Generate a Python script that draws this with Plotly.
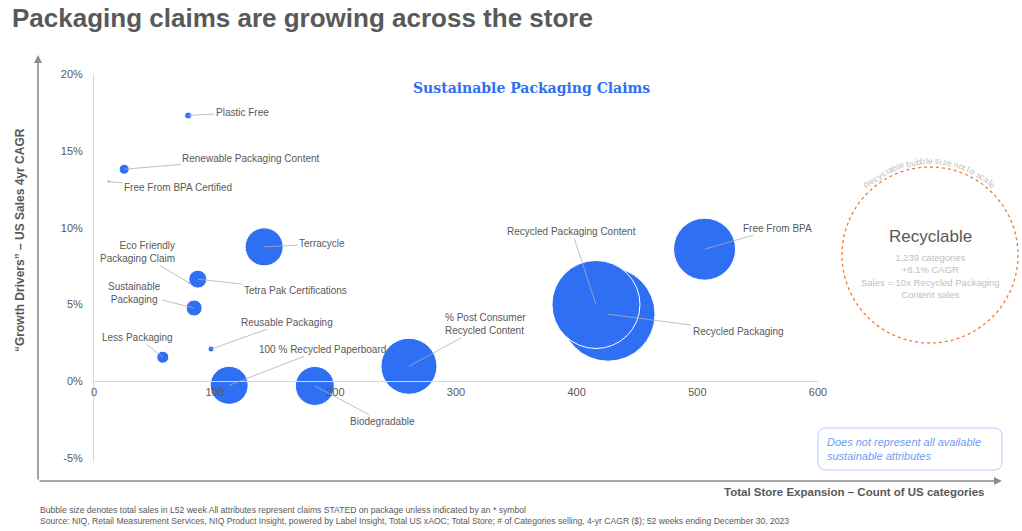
import numpy as np
import plotly.graph_objects as go

# data
claims = [
    "Plastic Free", "Renewable Packaging Content", "Free From BPA Certified",
    "Eco Friendly<br>Packaging Claim", "Tetra Pak Certifications", "Terracycle",
    "Sustainable<br>Packaging", "Less Packaging", "Reusable Packaging",
    "100 % Recycled Paperboard", "Biodegradable", "% Post Consumer<br>Recycled Content",
    "Recycled Packaging", "Recycled Packaging Content", "Free From BPA",
]
category_count = [78, 25, 12, 79, 86, 141, 83, 57, 97, 112, 183, 261, 426, 416, 506]
cagr_pct = [17.3, 13.8, 13.0, 6.4, 6.65, 8.75, 4.77, 1.57, 2.1, -0.26, -0.3, 0.98, 4.37, 5.0, 8.6]
sales_index = [12, 25, 1.5, 2.2, 81, 361, 64, 36, 9, 361, 380, 784, 2209, 1936, 961]

x_ticks = [0, 100, 200, 300, 400, 500, 600]
y_ticks = [-5, 0, 5, 10, 15, 20]
y_tick_text = ["-5%", "0%", "5%", "10%", "15%", "20%"]

# label placement (pixel offsets from bubble) and alignment
label_offsets = [(54, -3), (127, -11), (70, 6), (-52, -31), (98, 11), (58, -3),
                 (-60, -15), (-25, -20), (76, -27), (93, -36), (68, 36), (77, -42),
                 (130, 17), (-24, -73), (73, -21)]
label_align = ["left"] * 15
label_align[3] = "right"
label_align[6] = "center"

W, H = 1022, 531
L, R, T, B = 94, 818, 74, 462
y_range = [-5.25, 20]

def px(x):
    return (x - L) / (R - L)

def py(y):
    return (B - y) / (B - T)

BLUE = "#2e6ff3"
GREY = "#595959"
FONT = "Liberation Sans, Arial, sans-serif"

fig = go.Figure()
fig.add_trace(go.Scatter(
    x=category_count, y=cagr_pct, mode="markers",
    text=[c.replace("<br>", " ") for c in claims],
    hovertemplate="%{text}<br>%{x} categories<br>%{y}%<extra></extra>",
    marker=dict(size=sales_index, sizemode="area", sizeref=0.5, color=BLUE,
                opacity=1, line=dict(color="white", width=1)),
))

annotations = []
for name, x, y, (ox, oy), al in zip(claims, category_count, cagr_pct, label_offsets, label_align):
    annotations.append(dict(
        x=x, y=y, xref="x", yref="y", text=name, showarrow=True, arrowhead=0,
        arrowwidth=0.8, arrowcolor="#b0b0b0", ax=ox, ay=oy, align=al,
        font=dict(family=FONT, size=10, color=GREY),
    ))

def note(x, y, text, size, color, xanchor="center", **kw):
    return dict(x=px(x), y=py(y), xref="paper", yref="paper", text=text, showarrow=False,
                xanchor=xanchor, yanchor="middle", font=dict(family=kw.pop("family", FONT), size=size, color=color), **kw)

# outer arrow frame
annotations.append(dict(x=px(38), y=py(55), xref="paper", yref="paper", text="",
                        showarrow=True, arrowhead=2, arrowsize=1, arrowwidth=1.6,
                        arrowcolor="#8c8c8c", ax=0, ay=481 - 55))
annotations.append(dict(x=px(1002), y=py(481), xref="paper", yref="paper", text="",
                        showarrow=True, arrowhead=2, arrowsize=1, arrowwidth=1.6,
                        arrowcolor="#8c8c8c", ax=38 - 1002, ay=0))

# titles
annotations += [
    note(10, 18, "<b>Packaging claims are growing across the store</b>", 26, GREY, xanchor="left"),
    note(531, 88, "<b>Sustainable Packaging Claims</b>", 14, BLUE, family="DejaVu Serif, Georgia, serif"),
    note(20, 240, "<b>\u201cGrowth Drivers\u201d \u2013 US Sales 4yr CAGR</b>", 12, GREY, textangle=-90),
    note(987, 492, "<b>Total Store Expansion \u2013 Count of US categories</b>", 11.5, GREY, xanchor="right"),
    note(38, 515,
         "Bubble size denotes total sales in L52 week All attributes represent claims STATED on package unless indicated by an * symbol<br>"
         "Source: NIQ, Retail Measurement Services, NIQ Product Insight, powered by Label Insight, Total US xAOC; Total Store; "
         "# of Categories selling, 4-yr CAGR ($); 52 weeks ending December 30, 2023",
         8.6, GREY, xanchor="left", align="left", family="Liberation Sans Narrow, Arial Narrow, sans-serif"),
    # Recyclable callout
    note(930, 237, "Recyclable", 17, GREY),
    note(930, 276, "1,239 categories<br>+8.1% CAGR<br>Sales = 10x Recycled Packaging<br>Content sales",
         9.5, "#c0c0c0", align="center"),
    # note box
    note(825, 449, "<i>Does not represent all available<br>sustainable attributes</i>", 11, "#6f9df3",
         xanchor="left", align="left"),
]

# curved caption over the recyclable circle
arc_text = "Recyclable bubble size not to scale"
narrow = set("iljtfI ")
widths = [0.26 if c in narrow else (0.34 if c == "r" else (0.72 if c == "R" else 0.54)) for c in arc_text]
cum = np.cumsum(widths) - np.array(widths) / 2
frac = cum / sum(widths)
cx, cy, rad = 930, 255, 94
theta = np.radians(134 - frac * (134 - 47))
for ch, th in zip(arc_text, theta):
    annotations.append(note(cx + rad * np.cos(th), cy - rad * np.sin(th), ch, 8.5, "#bdbdbd",
                            textangle=90 - np.degrees(th)))

shapes = [
    dict(type="circle", xref="paper", yref="paper", x0=px(842), x1=px(1018),
         y0=py(343), y1=py(167), line=dict(color="#f07a3a", width=1.3, dash="dot")),
]
# rounded note box
bx0, bx1, by0, by1, rr = px(818), px(1002), py(470), py(428), 8
rx, ry = rr / (R - L), rr / (B - T)
shapes.append(dict(
    type="path", xref="paper", yref="paper",
    path=(f"M {bx0 + rx} {by1} L {bx1 - rx} {by1} Q {bx1} {by1} {bx1} {by1 - ry} "
          f"L {bx1} {by0 + ry} Q {bx1} {by0} {bx1 - rx} {by0} L {bx0 + rx} {by0} "
          f"Q {bx0} {by0} {bx0} {by0 + ry} L {bx0} {by1 - ry} Q {bx0} {by1} {bx0 + rx} {by1} Z"),
    line=dict(color="#b4cdf8", width=1),
))

x_pos = (0 - y_range[0]) / (y_range[1] - y_range[0])

fig.update_layout(
    width=W, height=H,
    margin=dict(l=L, r=W - R, t=T, b=H - B, autoexpand=False),
    paper_bgcolor="white", plot_bgcolor="white",
    showlegend=False,
    xaxis=dict(range=[0, 600], tickvals=x_ticks, showgrid=False, zeroline=False,
               showline=True, linecolor="#d9d9d9", linewidth=1, anchor="free", position=x_pos,
               tickfont=dict(family=FONT, size=11, color=GREY)),
    yaxis=dict(range=y_range, tickvals=y_ticks, ticktext=y_tick_text, showgrid=False, zeroline=False,
               showline=True, linecolor="#d9d9d9", linewidth=1, ticklabelstandoff=8,
               domain=[0, 1], tickfont=dict(family=FONT, size=11, color=GREY)),
    annotations=annotations,
    shapes=shapes,
)

fig.write_html("out.html", config={"displayModeBar": False},
               post_script="document.body.style.margin='0';")
